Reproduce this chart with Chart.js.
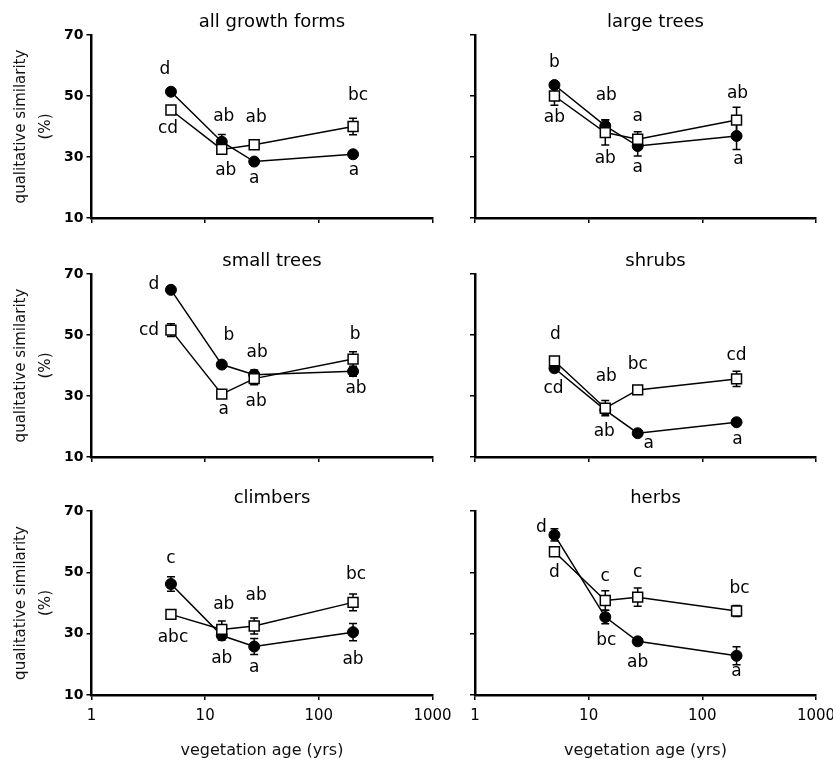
<!DOCTYPE html>
<html><head><meta charset="utf-8">
<script src="https://cdn.jsdelivr.net/npm/chart.js@4"></script>
<style>
html,body{margin:0;padding:0;background:#fff;}
#wrap{position:relative;width:833px;height:770px;overflow:hidden;}
#wrap canvas{position:absolute;left:0;top:0;}
</style></head><body><div id="wrap"></div>
<script>
// ---------- data ----------
const ages = [5, 14, 27, 200];
const panelTitles = ["all growth forms", "large trees", "small trees", "shrubs", "climbers", "herbs"];
const xTickValues = [1, 10, 100, 1000];
const yTickValues = [10, 30, 50, 70];
const yAxisTitle = ["qualitative similarity", "(%)"];
const xAxisTitle = "vegetation age (yrs)";

const filledMeans = [
  [51.4, 35.0, 28.5, 30.9],
  [53.6, 40.2, 33.6, 36.9],
  [64.8, 40.3, 37.0, 38.1],
  [39.1, 25.4, 17.8, 21.4],
  [46.2, 29.4, 25.8, 30.5],
  [62.2, 35.4, 27.5, 22.8]
];
const openMeans = [
  [45.4, 32.5, 34.0, 40.0],
  [50.0, 38.0, 35.8, 42.1],
  [51.6, 30.6, 35.7, 42.1],
  [41.5, 26.0, 32.0, 35.6],
  [36.3, 31.4, 32.5, 40.2],
  [56.7, 40.8, 41.9, 37.4]
];
const filledErr = [
  [0.8, 2.4, 0.8, 0.8],
  [1.0, 2.0, 3.3, 4.4],
  [0.8, 0.8, 1.5, 1.6],
  [0.8, 1.0, 0.8, 1.0],
  [2.4, 1.5, 2.6, 2.8],
  [2.0, 2.2, 1.0, 2.9]
];
const openErr = [
  [0.8, 1.0, 0.8, 2.7],
  [3.0, 4.1, 2.5, 4.2],
  [2.1, 0.5, 2.0, 2.4],
  [1.4, 2.5, 0.5, 2.5],
  [0.5, 2.7, 2.6, 2.7],
  [1.0, 3.2, 3.0, 1.8]
];
const filledLetters = [
  ["d", "ab", "a", "a"],
  ["b", "ab", "a", "a"],
  ["d", "b", "ab", "ab"],
  ["cd", "ab", "a", "a"],
  ["c", "ab", "a", "ab"],
  ["d", "bc", "ab", "a"]
];
const openLetters = [
  ["cd", "ab", "ab", "bc"],
  ["ab", "ab", "a", "ab"],
  ["cd", "a", "ab", "b"],
  ["d", "ab", "bc", "cd"],
  ["abc", "ab", "ab", "bc"],
  ["d", "c", "c", "bc"]
];

// ---------- layout / style (not data) ----------
const FONT = "DejaVu Sans";
const colLeft = [91.5, 475];
const plotWidth = 341;
const rowTop = [35, 274, 511];
const rowBottom = [218, 457, 695];
// label offsets [dx, dy] relative to the point, in pixels
const filledLabelPos = [
  [[-6,-22],[2,-25],[0,17],[1,16]],
  [[0,-22],[1,-30],[0,22],[2,24]],
  [[-17,-5],[7,-29],[3,-22],[3,17]],
  [[-1,20],[-1,22],[11,10],[1,17]],
  [[0,-25],[0,23],[0,21],[0,27]],
  [[-13,-7],[1,23],[0,21],[0,16]]
];
const openLabelPos = [
  [[-3,19],[4,21],[2,-27],[5,-31]],
  [[0,22],[0,26],[0,-23],[1,-27]],
  [[-22,0],[2,15],[2,23],[2,-25]],
  [[1,-26],[1,-32],[0,-25],[0,-23]],
  [[2,23],[2,-25],[2,-30],[3,-28]],
  [[0,21],[0,-24],[0,-25],[3,-22]]
];

const errorBarPlugin = {
  id: 'errorBars',
  beforeDatasetsDraw(chart) {
    const ctx = chart.ctx, xs = chart.scales.x, ys = chart.scales.y;
    const p = chart.options.plugins.errorBars;
    ctx.save();
    ctx.strokeStyle = '#000';
    ctx.lineWidth = 1.5;
    p.series.forEach(s => {
      s.means.forEach((m, j) => {
        const e = s.err[j];
        const x = xs.getPixelForValue(ages[j]);
        const y1 = ys.getPixelForValue(m - e), y2 = ys.getPixelForValue(m + e);
        ctx.beginPath();
        ctx.moveTo(x, y1); ctx.lineTo(x, y2);
        ctx.moveTo(x - 4, y1); ctx.lineTo(x + 4, y1);
        ctx.moveTo(x - 4, y2); ctx.lineTo(x + 4, y2);
        ctx.stroke();
      });
    });
    ctx.restore();
  }
};

const letterPlugin = {
  id: 'letters',
  afterDatasetsDraw(chart) {
    const ctx = chart.ctx, xs = chart.scales.x, ys = chart.scales.y;
    const p = chart.options.plugins.letters;
    ctx.save();
    ctx.fillStyle = '#000';
    ctx.font = '17px "' + FONT + '"';
    ctx.textAlign = 'center';
    ctx.textBaseline = 'middle';
    p.series.forEach(s => {
      s.letters.forEach((t, j) => {
        const x = xs.getPixelForValue(ages[j]) + s.pos[j][0];
        const y = ys.getPixelForValue(s.means[j]) + s.pos[j][1];
        ctx.fillText(t, x, y);
      });
    });
    // panel title
    const ca = chart.chartArea;
    ctx.font = '18px "' + FONT + '"';
    ctx.textBaseline = 'alphabetic';
    ctx.fillText(p.title, (ca.left + ca.right) / 2 + 10, ca.top - 8);
    ctx.restore();
  }
};

const wrap = document.getElementById('wrap');
for (let i = 0; i < 6; i++) {
  const row = Math.floor(i / 2), col = i % 2;
  const left = colLeft[col], right = left + plotWidth;
  const top = rowTop[row], bottom = rowBottom[row];
  const yw = col === 0 ? left : 20;
  const xh = row === 2 ? 770 - bottom : 20;
  const cv = document.createElement('canvas');
  cv.width = 833; cv.height = 770;
  cv.style.width = '833px'; cv.style.height = '770px';
  wrap.appendChild(cv);

  const gridOpts = {display: true, drawOnChartArea: false, drawTicks: true, tickLength: 5, color: '#000', lineWidth: 1.5};
  const borderOpts = {display: true, color: '#000', width: 2.5};

  new Chart(cv, {
    type: 'line',
    data: {
      datasets: [
        {
          label: 'open',
          data: openMeans[i].map((v, j) => ({x: ages[j], y: v})),
          borderColor: '#000', borderWidth: 1.5,
          pointStyle: 'rect', pointRadius: 7, pointBackgroundColor: '#fff',
          pointBorderColor: '#000', pointBorderWidth: 1.5, fill: false, tension: 0
        },
        {
          label: 'filled',
          data: filledMeans[i].map((v, j) => ({x: ages[j], y: v})),
          borderColor: '#000', borderWidth: 1.5,
          pointStyle: 'circle', pointRadius: 5.5, pointBackgroundColor: '#000',
          pointBorderColor: '#000', pointBorderWidth: 1, fill: false, tension: 0
        }
      ]
    },
    options: {
      responsive: false,
      animation: false,
      events: [],
      clip: false,
      layout: {
        autoPadding: false,
        padding: {left: left - yw, right: 833 - right, top: top, bottom: 770 - bottom - xh}
      },
      scales: {
        x: {
          type: 'logarithmic', min: 1, max: 1000,
          afterBuildTicks: s => { s.ticks = xTickValues.map(v => ({value: v, major: true})); },
          afterFit: s => { s.height = xh; s.paddingLeft = 0; s.paddingRight = 0; },
          ticks: {
            display: row === 2, autoSkip: false, maxRotation: 0,
            callback: v => String(v),
            font: {family: FONT, size: 15}, color: '#000', padding: 7
          },
          grid: gridOpts, border: borderOpts,
          title: {
            display: row === 2, text: xAxisTitle,
            font: {family: FONT, size: 16}, color: '#111',
            padding: {top: 0, bottom: 10}
          }
        },
        y: {
          type: 'linear', min: 10, max: 70,
          afterBuildTicks: s => { s.ticks = yTickValues.map(v => ({value: v})); },
          afterFit: s => { s.width = yw; s.paddingTop = 0; s.paddingBottom = 0; },
          ticks: {
            display: col === 0,
            font: {family: FONT, size: 14, weight: 'bold'}, color: '#000', padding: 3
          },
          grid: gridOpts, border: borderOpts,
          title: {
            display: col === 0, text: yAxisTitle,
            font: {family: FONT, size: 15, lineHeight: 1.667}, color: '#111',
            padding: {top: 8.5, bottom: 0}
          }
        }
      },
      plugins: {
        legend: {display: false},
        tooltip: {enabled: false},
        title: {display: false},
        errorBars: {
          series: [
            {means: filledMeans[i], err: filledErr[i]},
            {means: openMeans[i], err: openErr[i]}
          ]
        },
        letters: {
          title: panelTitles[i],
          series: [
            {means: filledMeans[i], letters: filledLetters[i], pos: filledLabelPos[i]},
            {means: openMeans[i], letters: openLetters[i], pos: openLabelPos[i]}
          ]
        }
      }
    },
    plugins: [errorBarPlugin, letterPlugin]
  });
}
</script>
</body></html>
